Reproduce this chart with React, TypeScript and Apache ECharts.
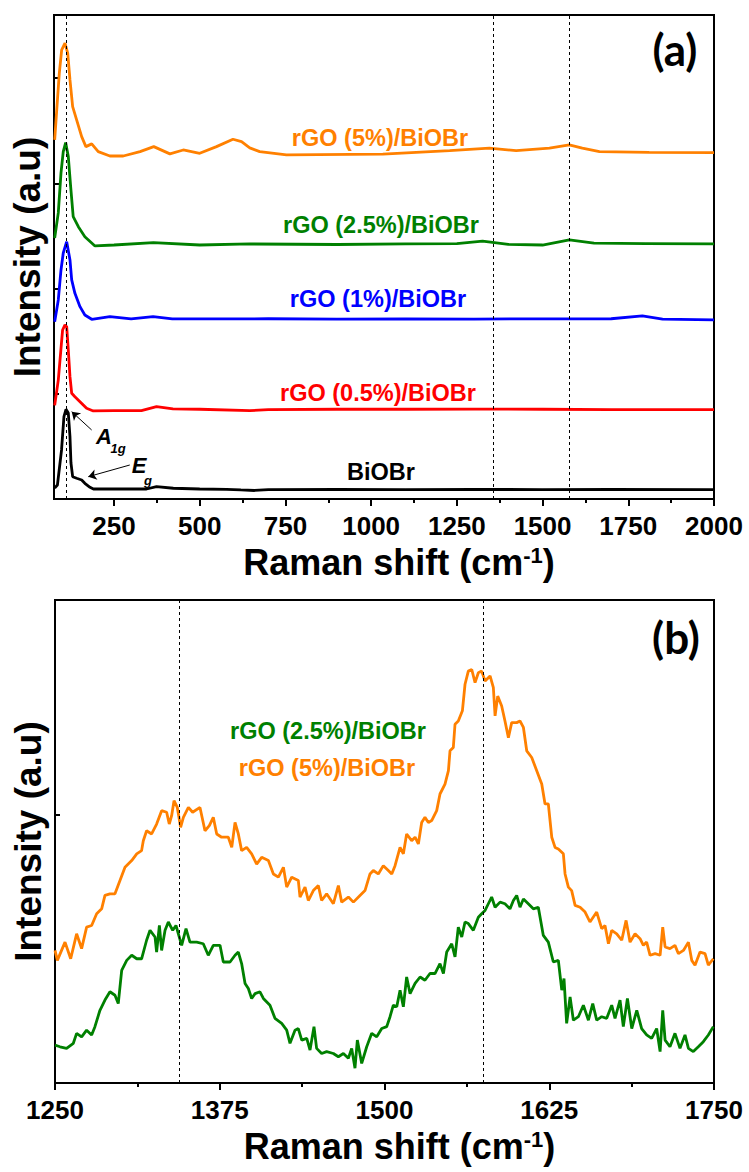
import React, { useEffect, useRef } from 'react';
import * as echarts from 'echarts';

const FONT = 'Arial, Liberation Sans, sans-serif';
const LABEL_FONT = 'Lato, Arial, sans-serif';

// ---------- Panel (a): offset Raman spectra, 75-2000 cm-1 ----------
const aBiOBr = [[77,10.5],[85,13.3],[97,46.6],[104,78.2],[110,85.3],[116.7,81.7],[121.6,59.2],[124.5,34.2],[129.4,21.2],[141,19.7],[155.7,18.1],[165,14.9],[180,11.1],[190,9.5],[250,9.5],[345,9.5],[374,11.7],[423,10.2],[500,9.5],[578,9.2],[620,8.6],[660,8.1],[700,9.0],[900,9.1],[1100,9.0],[1300,9.1],[1500,9.0],[1700,9.1],[2000,9.0]];
const aRGO05 = [[77,89],[87.5,113],[95,141.6],[100,160.6],[107,165.4],[112,163.8],[116.7,141.6],[121.6,116.3],[126.6,100.5],[136,97.2],[150.8,92.5],[170,86.2],[189.5,83.7],[250,83.9],[330,83.9],[374,87.7],[422,85.6],[500,85.3],[646,83.9],[700,85],[900,85.3],[1100,85.3],[1300,85.5],[1500,85.3],[1700,85],[2000,85]];
const aRGO1 = [[77,168.5],[87.5,189.2],[95.4,217.7],[102,233.8],[112,244.6],[121.6,227.2],[126.6,208.2],[136,195.5],[150.8,182.8],[165,174.9],[185,170.8],[238,173.3],[300,171.1],[364,173.3],[420,171.1],[500,171.1],[700,171.3],[900,171.0],[1100,171.2],[1300,171.0],[1500,171.2],[1700,171.3],[1791,174],[1850,171],[2000,170.2]];
const aRGO25 = [[77,248.1],[87.5,271.9],[95.4,309.9],[102,330.1],[109,338.7],[116.7,325.4],[123.6,296.9],[131,268.3],[146,258.8],[165,249.3],[194.5,240.5],[250,241.4],[365,243.6],[500,241.4],[646,242.4],[900,241.9],[1100,242.4],[1250,242.8],[1325,245.0],[1400,242],[1500,241.4],[1578,246.2],[1650,243.1],[1800,242.8],[2000,242.4]];
const aRGO5 = [[77,341.3],[83,369.8],[90.5,404.7],[97.4,426.8],[107,433.2],[115,423.7],[121.6,398.3],[129.4,372.9],[141,360.3],[155.7,344.4],[168,334.9],[185,337.5],[204,330.1],[238,326.0],[277,326.0],[326,330.1],[366,334.9],[413,328.0],[452,331.7],[500,328.6],[549,334.9],[597,341.9],[622,339.6],[646,333.7],[675,330.1],[753,327.0],[1034,327.7],[1229,331.1],[1345,333.4],[1423,331.1],[1520,333.4],[1578,336.5],[1616,333.4],[1666,330.1],[1811,329.5],[2000,329.2]];
const aArrowA1g = [[184.8,65.6],[126.6,83]];
const aArrowEg = [[296,32.3],[175,21.2]];
const aMajorTicks = [250,500,750,1000,1250,1500,1750,2000];
const aMinorTicks = [375,625,875,1125,1375,1625,1875];
const aYTicks = [100,200,300,400];
const aDotted = [112,1355,1578];

// ---------- Panel (b): D and G bands, 1250-1750 cm-1 ----------
const bOrange = [[1250.0,49.4],[1251.8,45.7],[1257.6,52.5],[1261.9,46.3],[1266.4,55.6],[1270.2,50.1],[1274.0,58.1],[1277.8,58.7],[1281.6,63.1],[1285.4,64.9],[1287.9,69.9],[1291.7,70.5],[1295.5,70.5],[1299.3,75.5],[1303.1,80.4],[1308.2,82.9],[1312.0,85.4],[1315.7,86.6],[1317.0,90.3],[1319.5,94.0],[1323.3,92.8],[1327.1,96.5],[1330.9,101.5],[1334.7,100.9],[1336.7,96.5],[1338.5,99.6],[1340.3,105.2],[1342.8,102.7],[1345.3,95.3],[1347.4,99.0],[1351.2,102.7],[1354.4,100.9],[1360.0,102.7],[1363.8,94.0],[1367.1,95.9],[1370.1,99.0],[1372.7,92.8],[1376.4,91.6],[1381.5,91.6],[1384.1,87.8],[1386.6,97.1],[1389.1,92.8],[1391.6,86.6],[1395.4,87.8],[1399.2,85.4],[1403.0,81.6],[1406.8,84.1],[1411.9,82.9],[1415.7,77.9],[1419.5,76.7],[1423.3,80.4],[1425.8,73.0],[1429.6,76.7],[1434.6,75.5],[1435.9,69.3],[1439.7,73.0],[1442.2,68.0],[1446.0,71.7],[1449.8,73.6],[1452.3,68.0],[1456.1,70.5],[1461.2,66.8],[1465.0,73.6],[1467.5,67.4],[1472.6,69.3],[1476.4,67.4],[1481.4,69.9],[1485.2,71.7],[1489.0,77.9],[1491.5,79.2],[1495.3,77.9],[1499.1,81.0],[1502.9,79.2],[1505.5,77.9],[1508.0,81.0],[1511.8,87.8],[1514.3,85.4],[1516.8,92.8],[1520.6,90.3],[1523.2,91.6],[1525.7,89.1],[1528.2,97.1],[1530.7,99.0],[1533.3,97.1],[1535.8,97.8],[1539.6,101.5],[1542.1,107.7],[1545.9,111.4],[1548.5,116.4],[1549.7,123.8],[1552.2,125.0],[1553.5,133.7],[1556.0,134.9],[1559.1,138.7],[1561.1,148.6],[1563.6,153.5],[1566.2,154.1],[1568.7,149.2],[1571.2,152.9],[1573.7,153.5],[1576.3,149.8],[1580.1,151.7],[1582.6,147.3],[1583.9,136.8],[1585.9,144.2],[1588.9,140.5],[1591.4,134.9],[1594.0,128.7],[1596.5,134.3],[1600.3,134.3],[1602.8,134.9],[1605.4,132.5],[1607.9,123.8],[1611.7,121.3],[1615.5,116.4],[1619.3,111.4],[1621.8,104.0],[1624.3,104.0],[1626.9,91.6],[1629.4,87.8],[1631.9,87.2],[1635.7,85.4],[1637.0,77.9],[1639.5,73.0],[1642.0,71.7],[1644.6,66.2],[1648.4,65.5],[1652.2,63.7],[1655.9,60.0],[1661.0,63.7],[1664.8,57.5],[1667.3,58.7],[1669.9,51.9],[1672.4,56.9],[1676.2,55.6],[1680.0,53.2],[1683.3,60.6],[1686.3,52.5],[1690.1,55.6],[1693.9,53.8],[1696.4,51.3],[1698.9,52.5],[1701.5,47.6],[1705.3,48.2],[1709.1,47.6],[1711.1,58.1],[1712.9,50.7],[1716.6,50.1],[1720.4,51.3],[1723.0,48.2],[1726.8,49.4],[1730.6,52.5],[1733.1,45.7],[1735.6,43.9],[1739.4,48.8],[1743.2,48.2],[1745.7,43.9],[1749.5,46.3]];
const bGreen = [[1250.0,14.1],[1253.8,13.5],[1258.8,12.9],[1263.9,14.8],[1266.4,18.5],[1270.2,17.2],[1274.0,19.7],[1277.8,17.9],[1280.3,21.0],[1284.1,27.1],[1287.9,30.9],[1291.7,34.0],[1295.5,32.7],[1298.0,29.6],[1300.6,42.0],[1304.4,45.7],[1308.2,47.6],[1312.0,46.3],[1315.7,46.3],[1319.5,53.2],[1322.1,56.9],[1325.9,54.4],[1327.1,48.8],[1329.2,58.7],[1330.9,49.4],[1333.5,56.9],[1336.0,60.0],[1339.3,56.9],[1341.8,58.7],[1343.6,55.6],[1346.1,51.3],[1349.4,57.5],[1352.4,52.5],[1357.5,52.5],[1362.5,51.9],[1366.3,47.6],[1370.1,51.3],[1375.2,51.3],[1377.7,45.1],[1382.8,45.1],[1386.6,47.6],[1389.1,48.8],[1391.6,44.5],[1394.2,37.1],[1396.7,35.2],[1399.2,31.5],[1401.8,33.3],[1405.5,34.0],[1408.1,31.5],[1413.1,29.0],[1416.9,24.1],[1422.0,22.2],[1425.8,19.7],[1428.3,14.8],[1432.1,19.7],[1434.6,20.3],[1437.2,16.0],[1441.0,16.6],[1443.5,12.3],[1446.5,21.0],[1448.5,12.9],[1452.3,11.0],[1456.1,11.7],[1461.2,11.0],[1465.0,9.8],[1468.8,11.0],[1472.6,9.2],[1475.1,12.9],[1477.6,5.5],[1479.4,16.0],[1482.7,7.3],[1486.5,13.5],[1490.3,18.5],[1494.1,17.2],[1497.9,20.3],[1501.7,21.0],[1504.2,24.7],[1506.7,29.0],[1509.3,28.4],[1511.8,34.6],[1514.3,28.4],[1516.8,39.5],[1519.4,33.3],[1523.2,37.1],[1527.0,39.5],[1530.7,38.3],[1534.5,40.8],[1538.3,40.8],[1542.1,44.5],[1544.7,40.8],[1547.2,48.8],[1551.0,51.9],[1553.5,47.0],[1556.0,58.1],[1558.6,54.4],[1561.1,60.0],[1563.6,59.4],[1567.4,56.9],[1571.2,61.8],[1573.7,63.1],[1576.3,64.3],[1578.8,66.8],[1581.3,69.3],[1583.9,65.5],[1587.7,67.4],[1591.4,66.8],[1595.2,64.9],[1597.8,68.0],[1600.3,69.9],[1602.8,65.5],[1605.4,68.6],[1609.1,66.8],[1612.9,64.9],[1616.7,65.5],[1620.5,55.0],[1624.3,52.5],[1628.1,45.1],[1631.9,45.7],[1634.5,34.6],[1636.2,38.9],[1638.2,22.2],[1640.8,32.1],[1643.3,23.4],[1647.1,24.7],[1650.9,29.0],[1654.7,23.4],[1658.0,29.6],[1661.0,23.4],[1664.8,24.7],[1668.6,24.1],[1672.4,29.0],[1674.9,24.1],[1678.7,30.9],[1681.2,21.0],[1684.3,31.5],[1687.6,20.3],[1691.4,27.1],[1695.1,20.3],[1698.9,17.9],[1702.7,16.6],[1706.5,20.3],[1709.1,11.7],[1711.1,27.1],[1712.9,16.0],[1716.6,13.5],[1720.4,18.5],[1724.2,12.9],[1728.0,17.9],[1730.6,12.9],[1734.3,11.7],[1738.1,13.5],[1741.9,15.4],[1745.7,17.9],[1749.5,21.0]];
const bYTicks = [100];
const bDotted = [1344,1575];

const ORANGE = '#FF8000';
const GREEN = '#008000';
const BLUE = '#0000FF';
const RED = '#FF0000';
const BLACK = '#000000';

const axisTitleStyle = {
  fontSize: 36, fontWeight: 'bold' as const, color: BLACK, fontFamily: FONT,
  padding: [0, 0, 0, 30],
  rich: { sup: { fontSize: 22, fontWeight: 'bold' as const, color: BLACK, fontFamily: FONT, verticalAlign: 'top' as const } },
};
const yTitleStyle = { fontSize: 37, fontWeight: 'bold' as const, color: BLACK, fontFamily: FONT };
const tickLabel = { fontSize: 26, fontWeight: 'bold' as const, color: BLACK, fontFamily: FONT, margin: 14, formatter: (v: number) => String(v) };
const lineBlack = { color: BLACK, width: 2 };

function txt(text: string, x: number, y: number, fill: string, size = 23.5, extra: any = {}) {
  return {
    type: 'text', x, y, silent: true,
    style: { text, fill, fontSize: size, fontWeight: 'bold', fontFamily: FONT, align: 'center', verticalAlign: 'middle', textAlign: 'center', textVerticalAlign: 'middle', ...extra },
  };
}

function spectrum(name: string, data: number[][], color: string, xi: number, yi: number, extra: any = {}) {
  return {
    type: 'line', name, data, xAxisIndex: xi, yAxisIndex: yi,
    showSymbol: false, symbol: 'none', silent: true,
    lineStyle: { color, width: 2.8 }, itemStyle: { color },
    ...extra,
  };
}

function dottedLines(vals: number[]) {
  return {
    silent: true, symbol: ['none', 'none'], label: { show: false },
    lineStyle: { type: [3, 3], color: BLACK, width: 1 },
    data: vals.map((v) => ({ xAxis: v })),
  };
}

export default function App() {
  const ref = useRef<HTMLDivElement>(null);
  useEffect(() => {
    document.body.style.margin = '0';
    if (!ref.current) return;
    const chart = echarts.init(ref.current, null, { renderer: 'svg' });
    chart.setOption({
      animation: false,
      backgroundColor: '#ffffff',
      textStyle: { fontFamily: FONT },
      grid: [
        { left: 54, top: 15, width: 660, height: 484, show: true, borderColor: BLACK, borderWidth: 2, backgroundColor: 'transparent' },
        { left: 55, top: 600, width: 659, height: 483, show: true, borderColor: BLACK, borderWidth: 2, backgroundColor: 'transparent' },
      ],
      xAxis: [
        {
          gridIndex: 0, type: 'value', min: 75, max: 2000, position: 'bottom',
          axisLine: { show: true, onZero: false, lineStyle: lineBlack },
          axisTick: { show: true, inside: false, length: 7, lineStyle: lineBlack, customValues: aMajorTicks },
          axisLabel: { ...tickLabel, customValues: aMajorTicks },
          splitLine: { show: false },
          name: 'Raman shift (cm{sup|-1})', nameLocation: 'middle', nameGap: 45, nameTextStyle: axisTitleStyle,
        },
        {
          gridIndex: 0, type: 'value', min: 75, max: 2000, position: 'bottom',
          axisLine: { show: false, onZero: false },
          axisTick: { show: true, inside: false, length: 4, lineStyle: lineBlack, customValues: aMinorTicks },
          axisLabel: { show: false },
          splitLine: { show: false },
        },
        {
          gridIndex: 1, type: 'value', min: 1250, max: 1750, interval: 125, position: 'bottom',
          axisLine: { show: true, onZero: false, lineStyle: lineBlack },
          axisTick: { show: true, inside: false, length: 7, lineStyle: lineBlack },
          minorTick: { show: true, splitNumber: 2, length: 4, lineStyle: lineBlack },
          axisLabel: tickLabel,
          splitLine: { show: false },
          name: 'Raman shift (cm{sup|-1})', nameLocation: 'middle', nameGap: 45, nameTextStyle: axisTitleStyle,
        },
      ],
      yAxis: [
        {
          gridIndex: 0, type: 'value', min: 0, max: 460,
          axisLine: { show: true, onZero: false, lineStyle: lineBlack },
          axisTick: { show: true, inside: true, length: 5, lineStyle: lineBlack, customValues: aYTicks },
          axisLabel: { show: false }, splitLine: { show: false },
          name: 'Intensity (a.u)', nameLocation: 'middle', nameGap: 8, nameTextStyle: yTitleStyle,
        },
        {
          gridIndex: 1, type: 'value', min: 0, max: 180,
          axisLine: { show: true, onZero: false, lineStyle: lineBlack },
          axisTick: { show: true, inside: true, length: 5, lineStyle: lineBlack, customValues: bYTicks },
          axisLabel: { show: false }, splitLine: { show: false },
          name: 'Intensity (a.u)', nameLocation: 'middle', nameGap: 8, nameTextStyle: yTitleStyle,
        },
      ],
      series: [
        spectrum('BiOBr', aBiOBr, BLACK, 0, 0, { markLine: dottedLines(aDotted) }),
        spectrum('rGO (0.5%)/BiOBr', aRGO05, RED, 0, 0),
        spectrum('rGO (1%)/BiOBr', aRGO1, BLUE, 0, 0),
        spectrum('rGO (2.5%)/BiOBr', aRGO25, GREEN, 0, 0),
        spectrum('rGO (5%)/BiOBr', aRGO5, ORANGE, 0, 0),
        {
          type: 'lines', coordinateSystem: 'cartesian2d', xAxisIndex: 0, yAxisIndex: 0, silent: true,
          symbol: ['none', 'arrow'], symbolSize: 8,
          lineStyle: { color: BLACK, width: 1, opacity: 1 },
          data: [{ coords: aArrowA1g }, { coords: aArrowEg }],
        },
        spectrum('rGO (2.5%)/BiOBr (b)', bGreen, GREEN, 2, 1, { markLine: dottedLines(bDotted) }),
        spectrum('rGO (5%)/BiOBr (b)', bOrange, ORANGE, 2, 1),
      ],
      graphic: [
        txt('rGO (5%)/BiOBr', 380, 138, ORANGE),
        txt('rGO (2.5%)/BiOBr', 381, 225, GREEN),
        txt('rGO (1%)/BiOBr', 378, 299, BLUE),
        txt('rGO (0.5%)/BiOBr', 378, 393, RED),
        txt('BiOBr', 381, 472, BLACK),
        txt('(a)', 675, 49, BLACK, 44, { fontFamily: LABEL_FONT }),
        txt('A', 104, 436, BLACK, 22, { fontStyle: 'italic' }),
        txt('1g', 118, 448, BLACK, 13, { fontStyle: 'italic' }),
        txt('E', 139, 465, BLACK, 22, { fontStyle: 'italic' }),
        txt('g', 148, 480, BLACK, 13, { fontStyle: 'italic' }),
        txt('rGO (2.5%)/BiOBr', 328, 731, GREEN),
        txt('rGO (5%)/BiOBr', 327, 768, ORANGE),
        txt('(b)', 676, 637, BLACK, 44, { fontFamily: LABEL_FONT }),
      ],
    });
    return () => chart.dispose();
  }, []);
  return <div ref={ref} style={{ width: 749, height: 1172 }} />;
}
